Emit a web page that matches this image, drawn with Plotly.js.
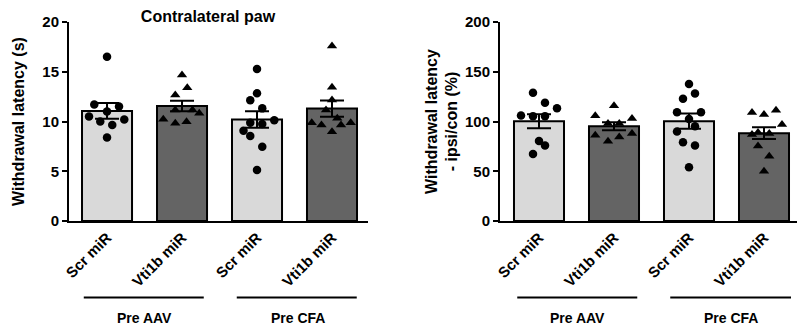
<!DOCTYPE html>
<html>
<head>
<meta charset="utf-8">
<script src="https://cdn.plot.ly/plotly-3.0.1.min.js"></script>
<style>html,body{margin:0;padding:0;background:#fff;}#chart{width:797px;height:332px;}</style>
</head>
<body>
<div id="chart"></div>
<script>
// ---- data ----
const categories = ["Scr miR", "Vti1b miR", "Scr miR", "Vti1b miR"];
const groups = ["Pre AAV", "Pre CFA"];

// Left panel: contralateral paw withdrawal latency (s)
const contraMean = [11.06, 11.56, 10.2, 11.3];
const contraSem = [0.79, 0.53, 0.84, 0.82];
const contraScrAAV = [16.5, 11.7, 11.5, 11.0, 10.5, 10.2, 10.0, 9.65, 8.4];
const contraVtiAAV = [14.67, 13.4, 12.66, 11.15, 11.15, 10.82, 10.22, 9.98, 9.82];
const contraScrCFA = [15.28, 12.83, 12.13, 11.32, 10.12, 9.88, 9.75, 9.08, 8.54, 7.47, 5.13];
const contraVtiCFA = [17.59, 13.44, 12.16, 11.16, 10.32, 9.88, 9.88, 9.65, 9.65, 8.97];

// Right panel: withdrawal latency ipsi/con (%)
const ratioMean = [100.3, 95.3, 100.3, 88.3];
const ratioSem = [7.0, 4.0, 7.7, 6.0];
const ratioScrAAV = [128.8, 118.8, 113.4, 106.1, 105.4, 105.4, 80.5, 75.9, 67.4];
const ratioVtiAAV = [115.8, 105.7, 103.1, 98, 98, 86.3, 88, 84.5, 80.2];
const ratioScrCFA = [137.6, 128.2, 122.8, 109.4, 109.4, 102.4, 95.3, 90, 79.2, 75.9, 54];
const ratioVtiCFA = [109.1, 107.1, 111.4, 97, 87, 89, 88, 75.5, 65.1, 50];

// ---- horizontal spread of the dots within a bar (layout only) ----
const spreadL = [
  [0, -0.17, 0.16, 0, -0.24, 0.23, -0.09, 0.07, 0],
  [0, 0.07, -0.09, -0.09, 0.14, 0.23, -0.25, 0.06, -0.09],
  [0, 0, -0.09, 0.07, 0.23, -0.09, 0.07, -0.18, -0.09, 0.07, 0],
  [0, 0, 0, -0.08, 0.07, -0.27, 0.25, -0.14, 0.12, 0]
];
const spreadR = [
  [-0.08, 0.08, 0.24, -0.24, -0.08, 0.08, 0, 0.08, -0.08],
  [0, -0.25, 0.24, -0.08, 0.07, -0.25, 0.24, 0.07, -0.08],
  [0, 0.08, -0.08, -0.16, 0.16, 0, 0.08, -0.16, -0.08, 0.08, 0],
  [-0.16, 0, 0.16, 0.24, -0.16, -0.08, 0.07, -0.08, 0.07, 0]
];

const FONT = "Liberation Sans, Arial, Helvetica, sans-serif";
const light = "#d9d9d9", dark = "#646464";
const symbols = ["circle", "triangle-up", "circle", "triangle-up"];
const idx = categories.map((_, i) => i);

function barTrace(mean, sem, xa, ya) {
  return {
    type: "bar", x: idx, y: mean, xaxis: xa, yaxis: ya, width: 0.667,
    marker: { color: [light, dark, light, dark], line: { color: "#000", width: 2 } },
    error_y: { type: "data", array: sem, visible: true, color: "#000", thickness: 2, width: 12 },
    hoverinfo: "skip", showlegend: false
  };
}
function dotTrace(vals, k, spread, xa, ya) {
  return {
    type: "scatter", mode: "markers", xaxis: xa, yaxis: ya,
    x: vals.map((_, j) => k + spread[k][j]), y: vals,
    marker: { symbol: symbols[k], color: "#000", size: symbols[k] === "circle" ? 8.5 : 9 },
    showlegend: false, cliponaxis: false
  };
}

const leftSets = [contraScrAAV, contraVtiAAV, contraScrCFA, contraVtiCFA];
const rightSets = [ratioScrAAV, ratioVtiAAV, ratioScrCFA, ratioVtiCFA];

const traces = [barTrace(contraMean, contraSem, "x", "y"), barTrace(ratioMean, ratioSem, "x2", "y2")];
leftSets.forEach((v, k) => traces.push(dotTrace(v, k, spreadL, "x", "y")));
rightSets.forEach((v, k) => traces.push(dotTrace(v, k, spreadR, "x2", "y2")));

const W = 797, H = 332;
const yDom = [(H - 221) / H, (H - 22) / H];
const tickFont = { family: FONT, size: 15, color: "#000", weight: "bold" };

function xAxis(domain, range) {
  return {
    domain: domain, range: range, tickmode: "array", tickvals: idx, ticktext: categories,
    tickangle: -45, ticks: "", showline: true, linewidth: 2, linecolor: "#000",
    showgrid: false, zeroline: false, tickfont: tickFont, fixedrange: true
  };
}
function yAxis(range, dtick, title, standoff) {
  return {
    domain: yDom, range: range, dtick: dtick, ticks: "outside", ticklen: 5, tickwidth: 2,
    tickcolor: "#000", showline: true, linewidth: 2, linecolor: "#000", showgrid: false,
    zeroline: false, tickfont: tickFont, fixedrange: true,
    title: { text: title, font: { family: FONT, size: 16, color: "#000", weight: "bold" }, standoff: standoff }
  };
}

const xa1 = xAxis([69 / W, 368 / W], [-0.507, 3.48]); xa1.anchor = "y";
const xa2 = xAxis([500 / W, 1], [-0.52, 3.44]); xa2.anchor = "y2";
const ya1 = yAxis([0, 20], 5, "Withdrawal latency (s)", 14); ya1.anchor = "x";
const ya2 = yAxis([0, 200], 50, "Withdrawal latency<br>- ipsi/con (%)", 3); ya2.anchor = "x2";

const lineY = (H - 297.5) / H, labY = (H - 318) / H;
const groupLines = [[-0.31, 1.29, "x"], [1.73, 3.33, "x"], [-0.29, 1.31, "x2"], [1.75, 3.36, "x2"]];
const shapes = groupLines.map(g => ({
  type: "line", xref: g[2], yref: "paper", x0: g[0], x1: g[1], y0: lineY, y1: lineY,
  line: { color: "#000", width: 2 }
}));
const groupLab = [[0.5, groups[0], "x"], [2.55, groups[1], "x"], [0.51, groups[0], "x2"], [2.56, groups[1], "x2"]];
const annotations = groupLab.map(g => ({
  xref: g[2], yref: "paper", x: g[0], y: labY, text: g[1], showarrow: false,
  xanchor: "center", yanchor: "middle", font: { family: FONT, size: 14, color: "#000", weight: "bold" }
}));

const layout = {
  width: W, height: H, margin: { l: 0, r: 0, t: 0, b: 0 },
  paper_bgcolor: "#fff", plot_bgcolor: "#fff", showlegend: false, bargap: 0,
  title: { text: "Contralateral paw", x: 208 / W, xanchor: "center", y: 1 - 16.7 / H, yanchor: "middle",
           font: { family: FONT, size: 16, color: "#000", weight: "bold" } },
  xaxis: xa1, yaxis: ya1, xaxis2: xa2, yaxis2: ya2,
  shapes: shapes, annotations: annotations
};

Plotly.newPlot("chart", traces, layout, { displayModeBar: false, staticPlot: true });
</script>
</body>
</html>
